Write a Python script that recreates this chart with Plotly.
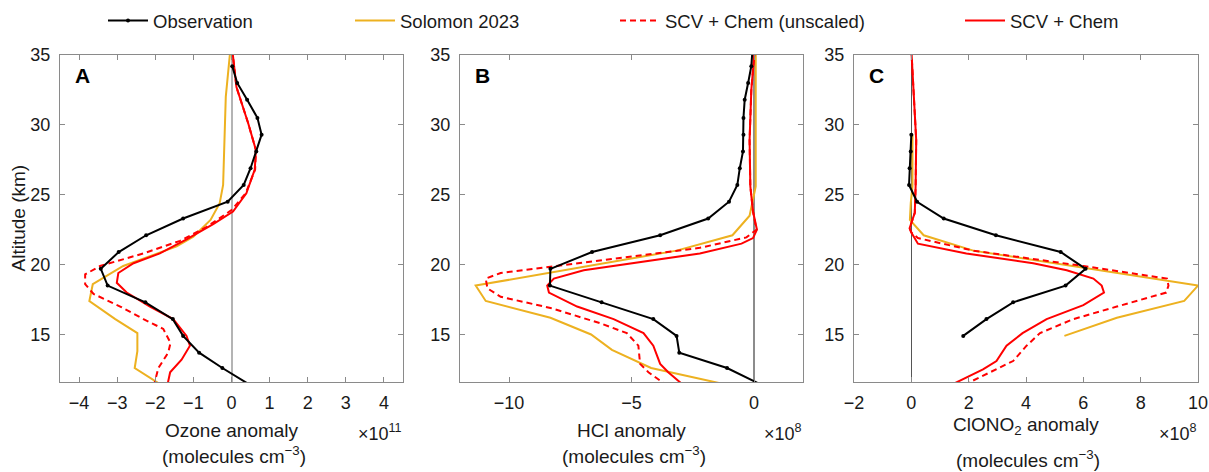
import plotly.graph_objects as go

# ---------------- data (x in units of the axis multiplier) ----------------
obs_alt = [35.4, 34.2, 33.0, 31.8, 30.5, 29.3, 28.1, 26.9, 25.7, 24.5, 23.3,
           22.1, 20.9, 19.7, 18.5, 17.3, 16.1, 14.9, 13.7, 12.6, 11.4]
ozone_obs = [None, 0.02, 0.15, 0.41, 0.68, 0.79, 0.65, 0.50, 0.32, -0.10, -1.27,
             -2.24, -2.96, -3.43, -3.25, -2.26, -1.54, -1.27, -0.85, -0.24, 0.48]
hcl_obs = [-0.06, -0.11, -0.24, -0.38, -0.43, -0.43, -0.45, -0.58, -0.68, -1.02, -1.87,
           -3.83, -6.61, -8.31, -8.33, -6.22, -4.11, -3.16, -3.05, -1.10, 0.30]
clono2_obs = [None, None, None, None, None, 0.0, -0.02, -0.06, -0.08, 0.20, 1.13,
              2.95, 5.21, 6.08, 5.38, 3.55, 2.62, 1.81, None, None, None]

# Solomon 2023
ozone_sol_alt = [35.4, 32.0, 25.7, 24.4, 23.2, 22.0, 21.3, 20.7, 19.9, 18.6, 17.4,
                 16.1, 15.1, 13.8, 12.6, 11.4]
ozone_sol = [-0.03, -0.15, -0.22, -0.31, -0.55, -1.00, -1.44, -2.05, -2.84, -3.64, -3.73,
             -3.05, -2.47, -2.47, -2.54, -1.85]
hcl_sol_alt = [35.4, 25.6, 23.5, 22.1, 21.0, 18.5, 17.4, 16.2, 15.0, 13.9, 12.6, 11.4]
hcl_sol = [0.07, 0.07, -0.18, -0.88, -3.16, -11.36, -10.95, -8.31, -6.65, -5.80, -4.20, -1.10]
clono2_sol_alt = [29.3, 25.6, 24.4, 23.2, 22.1, 21.0, 18.5, 17.4, 16.2, 14.9]
clono2_sol = [0.04, 0.04, -0.02, -0.05, 0.43, 2.16, 10.0, 9.52, 7.17, 5.34]

# SCV + Chem (scaled)
ozone_scv_alt = [35.4, 32.7, 30.1, 28.2, 26.8, 25.1, 23.8, 22.9, 21.8, 20.8, 20.1,
                 19.4, 18.7, 18.0, 17.0, 16.1, 14.9, 14.2, 13.2, 12.3, 11.4]
ozone_scv = [0.02, 0.13, 0.44, 0.64, 0.61, 0.39, 0.04, -0.48, -1.18, -1.88, -2.57,
             -2.97, -3.01, -2.75, -2.14, -1.53, -1.18, -1.09, -1.31, -1.61, -1.68]
hcl_scv_alt = [35.4, 32.5, 28.9, 25.6, 23.8, 22.5, 21.9, 21.5, 20.8, 20.1, 19.6,
               19.0, 18.5, 18.0, 17.0, 16.1, 15.1, 14.2, 12.9, 12.3, 11.4]
hcl_scv = [0.03, -0.11, -0.18, -0.15, -0.04, 0.12, -0.04, -0.51, -2.21, -4.92, -6.95,
           -8.17, -8.44, -8.37, -7.22, -5.73, -4.51, -4.11, -3.83, -3.50, -2.90]
clono2_scv_alt = [35.4, 31.3, 28.9, 25.6, 23.7, 22.6, 22.3, 21.5, 20.8, 20.1, 19.6,
                  19.0, 18.5, 18.0, 17.1, 16.1, 15.1, 14.2, 13.1, 12.5, 11.4]
clono2_scv = [0.0, 0.12, 0.17, 0.15, 0.12, -0.06, 0.0, 0.23, 1.92, 4.25, 5.42,
              6.35, 6.64, 6.72, 6.00, 4.72, 3.88, 3.32, 2.97, 2.50, 1.40]

# SCV + Chem (unscaled)
ozone_unsc_alt = [35.4, 32.7, 30.1, 28.2, 26.8, 25.1, 23.9, 22.7, 21.7, 20.8, 19.9,
                  19.3, 18.6, 17.9, 17.0, 16.1, 15.4, 14.4, 13.7, 12.6, 11.4]
ozone_unsc = [0.02, 0.13, 0.44, 0.64, 0.62, 0.37, 0.0, -0.65, -1.35, -2.31, -3.45,
              -3.84, -3.84, -3.62, -2.92, -2.31, -1.79, -1.60, -1.66, -1.92, -2.03]
hcl_unsc_alt = [35.4, 32.5, 28.9, 25.6, 23.8, 22.5, 21.95, 21.2, 20.6, 20.0, 19.4,
                19.0, 18.3, 17.7, 16.9, 15.8, 15.1, 14.2, 12.9, 12.3, 11.4]
hcl_unsc = [0.03, -0.11, -0.18, -0.15, -0.04, 0.10, -0.31, -2.21, -4.92, -7.63, -10.34,
            -10.95, -10.88, -10.34, -8.31, -6.27, -5.19, -4.72, -4.65, -4.31, -3.60]
clono2_unsc_alt = [35.4, 31.3, 28.9, 25.6, 23.7, 22.6, 22.3, 21.9, 21.0, 19.9,
                   19.0, 18.5, 18.0, 17.0, 16.1, 15.1, 14.2, 13.1, 12.4, 11.4]
clono2_unsc = [0.0, 0.12, 0.17, 0.15, 0.12, -0.06, 0.0, 0.23, 2.16, 6.00,
               8.92, 8.97, 8.89, 7.17, 5.65, 4.49, 4.02, 3.55, 2.86, 1.85]

series_names = ["Observation", "Solomon 2023", "SCV + Chem (unscaled)", "SCV + Chem"]
panel_letters = ["A", "B", "C"]
x_titles = ["Ozone anomaly", "HCl anomaly", "ClONO<sub>2</sub> anomaly"]
x_units = "(molecules cm<sup>−3</sup>)"
x_mult = ["×10<sup>11</sup>", "×10<sup>8</sup>", "×10<sup>8</sup>"]
x_ranges = [[-4.5, 4.5], [-12, 2], [-2, 10]]
x_ticks = [[-4, -3, -2, -1, 0, 1, 2, 3, 4], [-10, -5, 0], [-2, 0, 2, 4, 6, 8, 10]]
y_range = [11.6, 35]
y_ticks = [15, 20, 25, 30, 35]

# ---------------- styling ----------------
W, H = 1209, 472
FONT = "Liberation Sans, Arial, sans-serif"
TXT = "#1a1a1a"
FRAME = "#8a8a8a"
BLACK = "#000000"
ORANGE = "#EDB120"
RED = "#FF0000"
zero_colors = ["#b4b4b4", "#8c8c8c", "#555555"]

x_px = [(60, 403), (460, 803), (854, 1198)]
y_top, y_bot = 55, 382

fig = go.Figure()

panels = [
    (ozone_obs, ozone_sol_alt, ozone_sol, ozone_unsc_alt, ozone_unsc, ozone_scv_alt, ozone_scv),
    (hcl_obs, hcl_sol_alt, hcl_sol, hcl_unsc_alt, hcl_unsc, hcl_scv_alt, hcl_scv),
    (clono2_obs, clono2_sol_alt, clono2_sol, clono2_unsc_alt, clono2_unsc, clono2_scv_alt, clono2_scv),
]

legend_ids = ["legend", "legend2", "legend3", "legend4"]

for i, (obs, sa, sv, ua, uv, ca, cv) in enumerate(panels):
    xa = "x" if i == 0 else f"x{i+1}"
    ya = "y" if i == 0 else f"y{i+1}"
    show = i == 0
    fig.add_trace(go.Scatter(x=sv, y=sa, mode="lines", name=series_names[1],
                             line=dict(color=ORANGE, width=2), xaxis=xa, yaxis=ya,
                             showlegend=show, legend=legend_ids[1]))
    fig.add_trace(go.Scatter(x=uv, y=ua, mode="lines", name=series_names[2],
                             line=dict(color=RED, width=2, dash="6px,4px"), xaxis=xa, yaxis=ya,
                             showlegend=show, legend=legend_ids[2]))
    fig.add_trace(go.Scatter(x=cv, y=ca, mode="lines", name=series_names[3],
                             line=dict(color=RED, width=2), xaxis=xa, yaxis=ya,
                             showlegend=show, legend=legend_ids[3]))
    fig.add_trace(go.Scatter(x=obs, y=obs_alt, mode="lines+markers", name=series_names[0],
                             line=dict(color=BLACK, width=2), marker=dict(color=BLACK, size=4),
                             xaxis=xa, yaxis=ya, showlegend=show, legend=legend_ids[0]))

layout = dict(
    width=W, height=H,
    margin=dict(l=0, r=0, t=0, b=0, autoexpand=False),
    paper_bgcolor="white", plot_bgcolor="white",
    font=dict(family=FONT, size=18, color=TXT),
)

ydom = [1 - y_bot / H, 1 - y_top / H]
for i in range(3):
    sx = "" if i == 0 else str(i + 1)
    x0, x1 = x_px[i]
    layout["xaxis" + sx] = dict(
        domain=[x0 / W, x1 / W], range=x_ranges[i], tickvals=x_ticks[i],
        ticktext=[str(t).replace("-", "−") for t in x_ticks[i]],
        anchor="y" + sx, showgrid=False, zeroline=True, zerolinecolor=zero_colors[i],
        zerolinewidth=1.5 if i < 2 else 1,
        showline=True, linecolor=FRAME, linewidth=1, mirror="ticks",
        ticks="inside", ticklen=5, tickcolor=FRAME, tickfont=dict(size=18, color=TXT),
        ticklabelstandoff=4,
    )
    layout["yaxis" + sx] = dict(
        domain=ydom, range=y_range, tickvals=y_ticks, anchor="x" + sx,
        showgrid=False, zeroline=False,
        showline=True, linecolor=FRAME, linewidth=1, mirror="ticks",
        ticks="inside", ticklen=5, tickcolor=FRAME, tickfont=dict(size=18, color=TXT),
        ticklabelstandoff=5,
    )

# legends, one per entry so that positions match the reference
leg_line_start = [108, 355, 620, 965]
for k, lid in enumerate(legend_ids):
    layout[lid] = dict(
        x=(leg_line_start[k] - 5) / W, y=1 - 21 / H, xanchor="left", yanchor="middle",
        orientation="h", bgcolor="rgba(0,0,0,0)", borderwidth=0,
        font=dict(family=FONT, size=18.5, color=TXT), itemwidth=40,
    )

fig.update_layout(**layout)

ann = []
# y title
ann.append(dict(text="Altitude (km)", x=18 / W, y=1 - 218.5 / H, xref="paper", yref="paper",
                textangle=-90, showarrow=False, font=dict(size=19, color=TXT),
                xanchor="center", yanchor="middle"))
for i in range(3):
    x0, x1 = x_px[i]
    cx = (x0 + x1) / 2
    # panel letter
    ann.append(dict(text="<b>%s</b>" % panel_letters[i], x=(x0 + 13) / W, y=1 - 75.5 / H,
                    xref="paper", yref="paper", showarrow=False, xanchor="left", yanchor="middle",
                    font=dict(size=21, color=BLACK)))
    # x titles
    ty = 430 if i < 2 else 426
    uy = 455 if i < 2 else 459
    ann.append(dict(text=x_titles[i], x=cx / W, y=1 - ty / H, xref="paper", yref="paper",
                    showarrow=False, xanchor="center", yanchor="middle",
                    font=dict(size=19, color=TXT)))
    ann.append(dict(text=x_units, x=(cx + 2) / W, y=1 - uy / H, xref="paper", yref="paper",
                    showarrow=False, xanchor="center", yanchor="middle",
                    font=dict(size=19, color=TXT)))
    ann.append(dict(text=x_mult[i], x=(x1 + 1) / W, y=1 - 432 / H, xref="paper", yref="paper",
                    showarrow=False, xanchor="right", yanchor="middle",
                    font=dict(size=18, color=TXT)))
fig.update_layout(annotations=ann)

fig.write_html("out.html")
